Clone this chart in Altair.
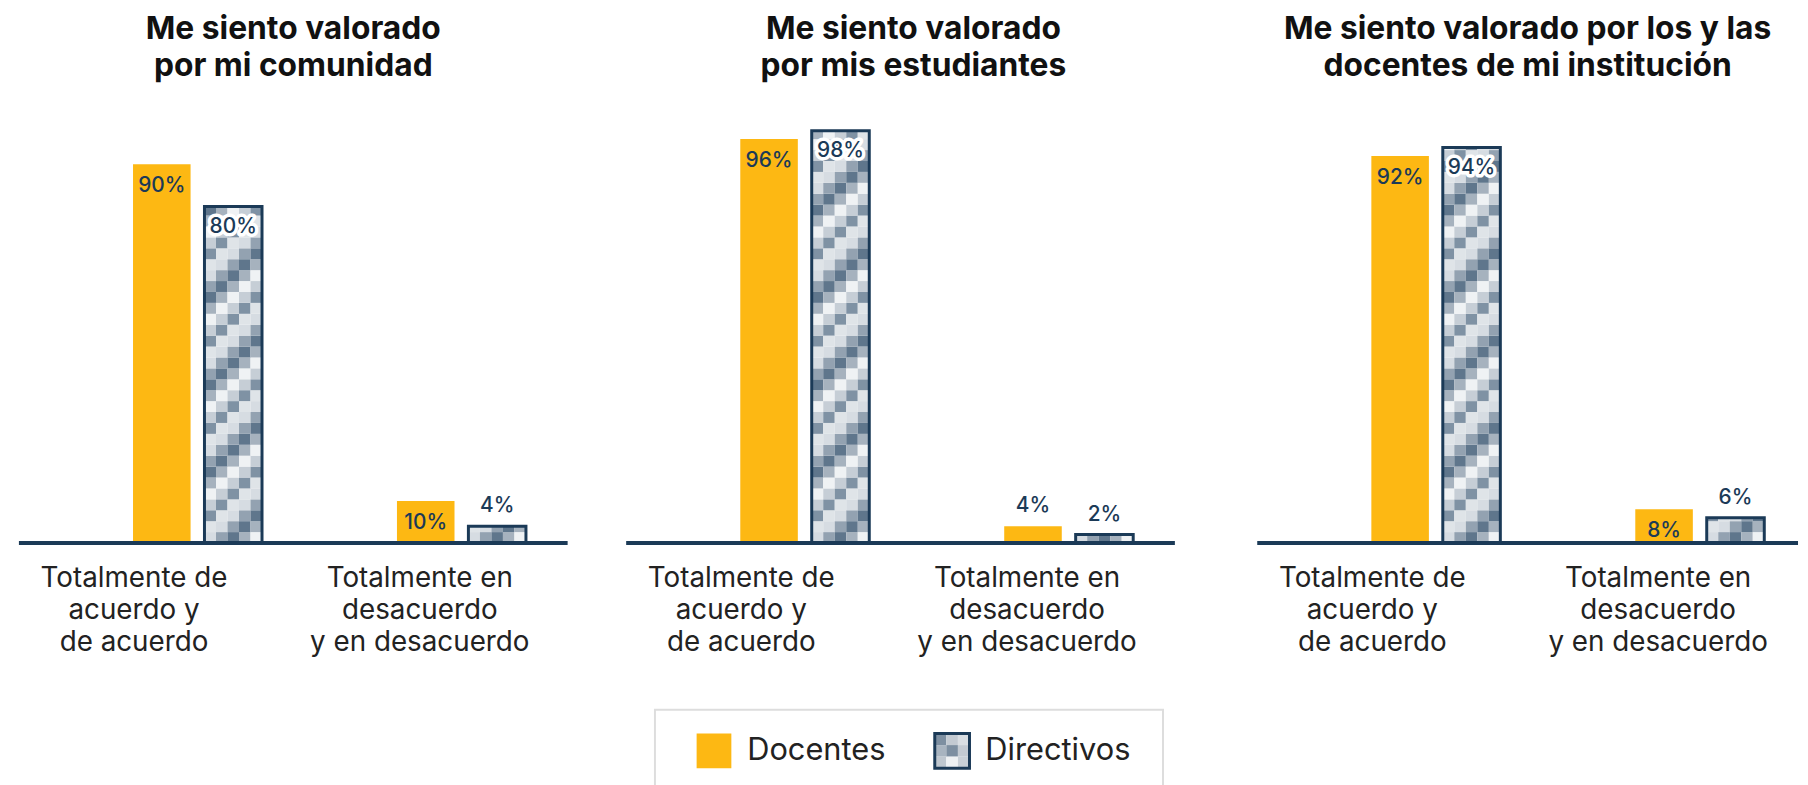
import math
import altair as alt
import pandas as pd

# ---------------- data ----------------
panel_titles = [
    ["Me siento valorado", "por mi comunidad"],
    ["Me siento valorado", "por mis estudiantes"],
    ["Me siento valorado por los y las", "docentes de mi institución"],
]
categories = [
    "Totalmente de\nacuerdo y\nde acuerdo",
    "Totalmente en\ndesacuerdo\ny en desacuerdo",
]
series = ["Docentes", "Directivos"]
docentes = [[90, 10], [96, 4], [92, 8]]
directivos = [[80, 4], [98, 2], [94, 6]]

# ---------------- style ----------------
FONT = "Inter"
ORANGE = "#FDB813"
NAVY = "#1B3A57"
TEXT = "#222222"
CHECKER = ["#d6dce2", "#93a2b1", "#5f768c", "#a6b2be", "#eff2f4", "#c6ced6", "#7f92a4", "#dfe4e8"]
H = 424
BAR_W = 58
GAP = 14
CENTERS = [180, 446]
LABEL_X = [116, 404]
CELL_PX = 11.0
NCOLS = 5

def make_panel(p, width, axis_len):
    xs = alt.Scale(domain=[0, width], nice=False, zero=False)
    ys = alt.Scale(domain=[0, 100], nice=False)
    bars = []
    cells = []
    for k in range(len(categories)):
        c = CENTERS[k]
        dv = docentes[p][k]
        rv = directivos[p][k]
        bars.append(dict(serie="Docentes", x=c - GAP / 2 - BAR_W, x2=c - GAP / 2,
                         value=dv, label=f"{dv}%"))
        bars.append(dict(serie="Directivos", x=c + GAP / 2, x2=c + GAP / 2 + BAR_W,
                         value=rv, label=f"{rv}%"))
        # checkerboard cells of the Directivos bar
        x0 = c + GAP / 2
        cw = BAR_W / NCOLS
        ch = CELL_PX / H * 100
        nrows = math.ceil(rv / ch)
        for r in range(nrows):
            for col in range(NCOLS):
                cells.append(dict(x=x0 + col * cw, x2=x0 + (col + 1) * cw,
                                  y=r * ch, y2=min((r + 1) * ch, rv),
                                  shade=CHECKER[(col - r) % len(CHECKER)]))
    bdf = pd.DataFrame(bars)
    cdf = pd.DataFrame(cells)
    catdf = pd.DataFrame(dict(x=LABEL_X, cat=categories))
    axdf = pd.DataFrame(dict(x=[0], x2=[axis_len], y=[0]))

    base = alt.Chart(bdf)
    X = alt.X("x:Q", scale=xs, axis=None)
    Y = alt.Y("value:Q", scale=ys, axis=None)

    orange = base.transform_filter(alt.datum.serie == "Docentes").mark_rect(color=ORANGE).encode(
        x=X, x2="x2:Q", y=Y, y2=alt.datum(0))
    checker = alt.Chart(cdf).mark_rect().encode(
        x=alt.X("x:Q", scale=xs, axis=None), x2="x2:Q",
        y=alt.Y("y:Q", scale=ys, axis=None), y2="y2:Q",
        color=alt.Color("shade:N", scale=None))
    border = base.transform_filter(alt.datum.serie == "Directivos").mark_rect(
        fillOpacity=0, stroke=NAVY, strokeWidth=3).encode(
        x=X, x2="x2:Q", y=Y, y2=alt.datum(0))
    axis_line = alt.Chart(axdf).mark_rule(color=NAVY, strokeWidth=4).encode(
        x=alt.X("x:Q", scale=xs, axis=None), x2="x2:Q",
        y=alt.Y("y:Q", scale=ys, axis=None))

    lab_base = base.transform_calculate(cx="(datum.x + datum.x2) / 2")
    LX = alt.X("cx:Q", scale=xs, axis=None)
    LAB = dict(font=FONT, fontSize=21, fontWeight=500, baseline="middle")

    doc_in = lab_base.transform_filter("datum.serie == 'Docentes' && datum.value >= 8").mark_text(
        color=NAVY, dy=22, **LAB).encode(x=LX, y=Y, text="label:N")
    doc_out = lab_base.transform_filter("datum.serie == 'Docentes' && datum.value < 8").mark_text(
        color=NAVY, dy=-20, **LAB).encode(x=LX, y=Y, text="label:N")
    dir_big = lab_base.transform_filter("datum.serie == 'Directivos' && datum.value >= 8")
    dir_halo = dir_big.mark_text(color="white", stroke="white", strokeWidth=7, strokeJoin="round",
                                 dy=21, **LAB).encode(x=LX, y=Y, text="label:N")
    dir_in = dir_big.mark_text(color=NAVY, dy=21, **LAB).encode(x=LX, y=Y, text="label:N")
    dir_out = lab_base.transform_filter("datum.serie == 'Directivos' && datum.value < 8").mark_text(
        color=NAVY, dy=-20, **LAB).encode(x=LX, y=Y, text="label:N")

    cat_text = alt.Chart(catdf).mark_text(
        font=FONT, fontSize=28, color=TEXT, lineBreak="\n", lineHeight=32.5,
        baseline="alphabetic", align="center").encode(
        x=alt.X("x:Q", scale=xs, axis=None), y=alt.value(H + 44), text="cat:N")

    return alt.layer(orange, checker, border, axis_line, doc_in, doc_out,
                     dir_halo, dir_in, dir_out, cat_text).properties(
        width=width, height=H,
        title=alt.TitleParams(text=panel_titles[p], font=FONT, fontSize=32, fontWeight="bold",
                              color="#111111", lineHeight=37, offset=40, anchor="middle"))

p1 = make_panel(0, 553, 553)
p2 = make_panel(1, 579, 553)
p3 = make_panel(2, 545, 545)
top = alt.hconcat(p1, p2, p3, spacing=55)

# ---------------- legend ----------------
LW, LH = 512, 110
lxs = alt.Scale(domain=[0, LW], nice=False, zero=False)
lys = alt.Scale(domain=[0, LH], nice=False, reverse=True)
SYM = 35
sym_x = [42, 282]
leg = pd.DataFrame(dict(serie=series, x=sym_x, x2=[v + SYM for v in sym_x],
                        tx=[v + SYM + 16 for v in sym_x], y=[24, 24], y2=[24 + SYM, 24 + SYM],
                        ty=[42, 42]))
LEG_CHECK = [["#7d8fa1", "#c3cad2", "#d9dee3"],
             ["#a8b4c0", "#7d8fa1", "#c3cad2"],
             ["#bfc7cf", "#eef1f3", "#c9d0d7"]]
lcells = []
cs = SYM / 3
for r in range(3):
    for c in range(3):
        lcells.append(dict(x=sym_x[1] + c * cs, x2=sym_x[1] + (c + 1) * cs,
                           y=24 + r * cs, y2=24 + (r + 1) * cs, shade=LEG_CHECK[r][c]))
lcdf = pd.DataFrame(lcells)

lbase = alt.Chart(leg)
leg_orange = lbase.transform_filter(alt.datum.serie == "Docentes").mark_rect(color=ORANGE).encode(
    x=alt.X("x:Q", scale=lxs, axis=None), x2="x2:Q",
    y=alt.Y("y:Q", scale=lys, axis=None), y2="y2:Q")
leg_cells = alt.Chart(lcdf).mark_rect().encode(
    x=alt.X("x:Q", scale=lxs, axis=None), x2="x2:Q",
    y=alt.Y("y:Q", scale=lys, axis=None), y2="y2:Q",
    color=alt.Color("shade:N", scale=None))
leg_border = lbase.transform_filter(alt.datum.serie == "Directivos").mark_rect(
    fillOpacity=0, stroke=NAVY, strokeWidth=3).encode(
    x=alt.X("x:Q", scale=lxs, axis=None), x2="x2:Q",
    y=alt.Y("y:Q", scale=lys, axis=None), y2="y2:Q")
leg_text = lbase.mark_text(font=FONT, fontSize=31, color=TEXT, align="left", baseline="middle").encode(
    x=alt.X("tx:Q", scale=lxs, axis=None), y=alt.Y("ty:Q", scale=lys, axis=None), text="serie:N")

legend = alt.layer(leg_orange, leg_cells, leg_border, leg_text).properties(
    width=LW, height=LH, view=alt.ViewBackground(stroke="#dddddd", strokeWidth=2))

chart = alt.vconcat(top, legend, spacing=52, center=True).properties(
    padding={"left": 9, "top": 2, "right": 0, "bottom": 0},
    background="white",
).configure_view(stroke=None)

chart.save("out.html", embed_options={"renderer": "svg", "actions": False})
